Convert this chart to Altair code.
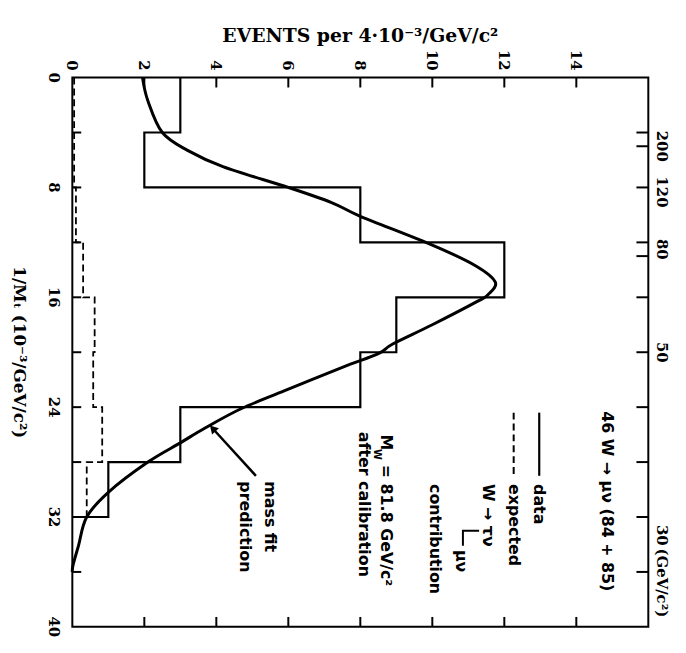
import altair as alt
import pandas as pd

# ---------------- data ----------------
bin_lo = [0, 4, 8, 12, 16, 20, 24, 28]          # 1/M bin lower edges (10^-3 / GeV/c^2)
bin_w = 4
counts = [3, 2, 8, 12, 9, 8, 3, 1]              # data, 46 events
expected_tau = [0.05, 0.05, 0.1, 0.3, 0.62, 0.58, 0.83, 0.4]  # W -> tau nu -> mu nu

fit_inv_m = [0, 1.7, 4, 5.3, 6.5, 8, 9.1, 10.1, 12.2, 13.7, 14.9, 15.8, 16.3,
             18, 19.4, 20.1, 21.1, 22.8, 24.1, 25.5, 26.6, 28, 30.2, 32, 34.1, 35.5, 36]
fit_events = [1.95, 2.1, 2.5, 3.2, 4.2, 6.0, 7.2, 8.0, 10.0, 11.2, 11.75, 11.55, 11.25,
              10.0, 8.9, 8.5, 7.5, 5.9, 4.7, 3.7, 3.0, 2.1, 1.0, 0.4, 0.17, 0.02, 0.0]

event_labels = [0, 2, 4, 6, 8, 10, 12, 14]
event_ticks = [2, 4, 6, 8, 10, 12, 14]
inv_m_labels = [0, 8, 16, 24, 32, 40]
inv_m_ticks = [4, 8, 12, 16, 20, 24, 28, 32, 36]
mass_labels = [200, 120, 80, 50, 30]
right_ticks = [4, 5, 8, 12, 13, 16, 20, 24, 28, 32, 36]

W, H = 582, 555
FONT_SERIF = "DejaVu Serif"
FONT_SANS = "DejaVu Sans"

xs = alt.Scale(domain=[0, 16], nice=False, zero=False)
ys = alt.Scale(domain=[0, 40], reverse=True, nice=False, zero=False)


def X(f="ev"):
    return alt.X(f"{f}:Q", scale=xs, axis=None)


def Y(f="im"):
    return alt.Y(f"{f}:Q", scale=ys, axis=None)


def step_df(vals):
    ev, im = [vals[0]], [bin_lo[0]]
    for lo, v in zip(bin_lo, vals):
        ev += [v, v]
        im += [lo, lo + bin_w]
    ev.append(0)
    im.append(bin_lo[-1] + bin_w)
    return pd.DataFrame({"ev": ev, "im": im, "o": list(range(len(ev)))})


def rot_text(df, size, font=FONT_SANS, align="left", **enc):
    return alt.Chart(df).mark_text(angle=90, align=align, baseline="middle", font=font,
                                   fontSize=size, fontWeight="bold").encode(text="t:N", **enc)


layers = []

# histograms
layers.append(alt.Chart(step_df(counts)).mark_line(color="black", strokeWidth=2.2)
              .encode(x=X(), y=Y(), order="o:Q"))
layers.append(alt.Chart(step_df(expected_tau)).mark_line(color="black", strokeWidth=1.8,
                                                          strokeDash=[7, 4])
              .encode(x=X(), y=Y(), order="o:Q"))

# fit curve
fit_df = pd.DataFrame({"ev": fit_events, "im": fit_inv_m, "o": list(range(len(fit_events)))})
layers.append(alt.Chart(fit_df).mark_line(color="black", strokeWidth=3, interpolate="cardinal")
              .encode(x=X(), y=Y(), order="o:Q"))

# inward ticks
layers.append(alt.Chart(pd.DataFrame({"ev": event_ticks})).mark_rule(color="black", strokeWidth=2)
              .encode(x=X(), y=alt.value(0), y2=alt.value(10)))
layers.append(alt.Chart(pd.DataFrame({"ev": event_ticks})).mark_rule(color="black", strokeWidth=2)
              .encode(x=X(), y=alt.value(H), y2=alt.value(H - 10)))
layers.append(alt.Chart(pd.DataFrame({"im": inv_m_ticks})).mark_rule(color="black", strokeWidth=2)
              .encode(y=Y(), x=alt.value(0), x2=alt.value(9)))
layers.append(alt.Chart(pd.DataFrame({"im": right_ticks})).mark_rule(color="black", strokeWidth=2)
              .encode(y=Y(), x=alt.value(W), x2=alt.value(W - 12)))

# tick labels (rotated like the reference)
top_lab = pd.DataFrame({"ev": event_labels, "t": [str(v) for v in event_labels]})
layers.append(rot_text(top_lab, 15, FONT_SERIF, "right", x=X(), y=alt.value(-7)))
left_lab = pd.DataFrame({"im": inv_m_labels, "t": [str(v) for v in inv_m_labels]})
layers.append(rot_text(left_lab, 15, FONT_SERIF, "center", y=Y(), x=alt.value(-19)))
right_lab = pd.DataFrame({"im": [1000.0 / m for m in mass_labels], "t": [str(m) for m in mass_labels]})
layers.append(rot_text(right_lab, 15, FONT_SERIF, "center", y=Y(), x=alt.value(W + 14)))
unit = pd.DataFrame({"im": [34.3], "t": ["(GeV/c²)"]})
layers.append(rot_text(unit, 15, FONT_SERIF, "left", y=Y(), x=alt.value(W + 14)))

# annotations (data coordinates: ev = events, im = 1/M)
notes = pd.DataFrame({
    "ev": [14.85, 12.97, 12.26, 11.54, 10.8, 10.06, 8.7, 8.7, 8.1, 5.5, 4.8],
    "im": [24.3, 29.6, 29.6, 29.6, 34.4, 29.6, 26.0, 28.2, 25.8, 29.4, 29.4],
    "t": ["46 W → μν (84 + 85)", "data", "expected", "W → τν", "μν", "contribution",
          "M", "= 81.8 GeV/c²", "after calibration", "mass fit", "prediction"],
})
layers.append(rot_text(notes, 16, x=X(), y=Y()))
sub = pd.DataFrame({"ev": [8.45], "im": [27.05], "t": ["W"]})
layers.append(rot_text(sub, 10, x=X(), y=Y()))

# legend line samples
leg_solid = pd.DataFrame({"ev": [12.97, 12.97], "im": [24.4, 29.0]})
layers.append(alt.Chart(leg_solid).mark_line(color="black", strokeWidth=2.2).encode(x=X(), y=Y()))
leg_dash = pd.DataFrame({"ev": [12.26, 12.26], "im": [24.4, 29.0]})
layers.append(alt.Chart(leg_dash).mark_line(color="black", strokeWidth=2, strokeDash=[7, 4])
              .encode(x=X(), y=Y()))
bracket = pd.DataFrame({"ev": [11.3, 10.85, 10.85], "im": [33.0, 33.0, 34.1], "o": [0, 1, 2]})
layers.append(alt.Chart(bracket).mark_line(color="black", strokeWidth=2)
              .encode(x=X(), y=Y(), order="o:Q"))

# arrow for "mass fit prediction"
arrow = pd.DataFrame({"ev": [5.1, 3.95], "im": [29.0, 25.7], "o": [0, 1]})
layers.append(alt.Chart(arrow).mark_line(color="black", strokeWidth=2.5)
              .encode(x=X(), y=Y(), order="o:Q"))
head = pd.DataFrame({"ev": [3.9], "im": [25.55]})
layers.append(alt.Chart(head).mark_point(shape="triangle-up", angle=317, size=90, filled=True,
                                         color="black", opacity=1)
              .encode(x=X(), y=Y()))

# titles
layers.append(alt.Chart(pd.DataFrame({"t": ["EVENTS per 4·10⁻³/GeV/c²"]}))
              .mark_text(font=FONT_SERIF, fontSize=19, fontWeight="bold", align="center", baseline="middle")
              .encode(x=alt.value(W / 2), y=alt.value(-42), text="t:N"))
layers.append(rot_text(pd.DataFrame({"t": ["1/Mₜ (10⁻³/GeV/c²)"]}), 17, FONT_SERIF, "center",
                       x=alt.value(-54), y=alt.value(H / 2)))

chart = alt.layer(*layers).properties(
    width=W, height=H,
    autosize=alt.AutoSizeParams(type="none"),
    padding={"left": 65, "top": 67, "right": 30, "bottom": 14},
    background="white",
).configure_view(stroke="black", strokeWidth=2)

chart.save("out.html", embed_options={"renderer": "svg", "actions": False})
